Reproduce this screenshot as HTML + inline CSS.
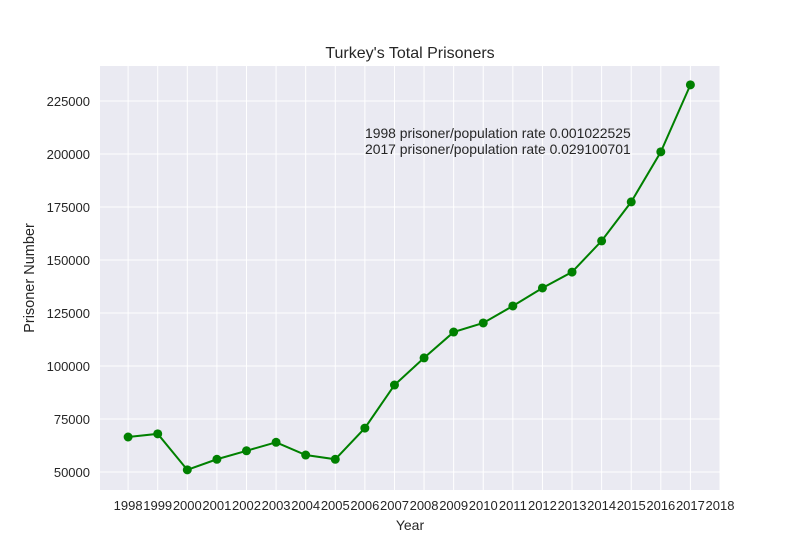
<!DOCTYPE html>
<html><head><meta charset="utf-8"><style>
body{margin:0;background:#fff;font-family:"Liberation Sans","DejaVu Sans",sans-serif;}
</style></head><body>
<svg id="chart" width="800" height="550" xmlns="http://www.w3.org/2000/svg" font-family="Liberation Sans, DejaVu Sans, sans-serif"></svg>
<script>
const years=[1998,1999,2000,2001,2002,2003,2004,2005,2006,2007,2008,2009,2010,2011,2012,2013,2014,2015,2016,2017];
const prisoners=[66500,68000,51000,56000,60000,64000,58000,56000,70700,91000,103800,116000,120300,128300,136800,144300,159000,177400,201000,232600];
const xTicks=[1998,1999,2000,2001,2002,2003,2004,2005,2006,2007,2008,2009,2010,2011,2012,2013,2014,2015,2016,2017,2018];
const yTicks=[50000,75000,100000,125000,150000,175000,200000,225000];
const L=100,R=720,T=66,B=490;
const xMin=1997.05,xMax=2018,yMin=41500,yMax=241500;
const sx=v=>L+(v-xMin)/(xMax-xMin)*(R-L);
const sy=v=>B-(v-yMin)/(yMax-yMin)*(B-T);
const svg=document.getElementById('chart');
const NS='http://www.w3.org/2000/svg';
function mk(tag,attrs,parent){const e=document.createElementNS(NS,tag);for(const k in attrs)e.setAttribute(k,attrs[k]);(parent||svg).appendChild(e);return e;}
let bg=mk('rect',{x:L,y:T,width:R-L,height:B-T,fill:'#eaeaf2'});


xTicks.forEach(t=>{
  let g=mk('line',{x1:sx(t),x2:sx(t),y1:T,y2:B,stroke:'#fff','stroke-width':1});
  
  
  let tx=mk('text',{x:sx(t),y:B+20,'text-anchor':'middle','font-size':13,fill:'#262626'});
  tx.textContent=t;
  
  
});
yTicks.forEach(t=>{
  let g=mk('line',{x1:L,x2:R,y1:sy(t),y2:sy(t),stroke:'#fff','stroke-width':1});
  
  
  let tx=mk('text',{x:L-10,y:sy(t)+5,'text-anchor':'end','font-size':13,fill:'#262626'});
  tx.textContent=t;
  
  
});
let line=mk('polyline',{points:years.map((y,i)=>sx(y)+','+sy(prisoners[i])).join(' '),fill:'none',stroke:'#008000','stroke-width':2});


years.forEach((y,i)=>{
  let c=mk('circle',{cx:sx(y),cy:sy(prisoners[i]),r:4.5,fill:'#008000'});
  
  
});
let title=mk('text',{x:410,y:58,'text-anchor':'middle','font-size':16,fill:'#262626'});
title.textContent="Turkey's Total Prisoners";


let xl=mk('text',{x:410,y:530,'text-anchor':'middle','font-size':14,fill:'#262626'});
xl.textContent='Year';


let yl=mk('text',{x:34,y:278,'text-anchor':'middle','font-size':14.5,fill:'#262626',transform:'rotate(-90 34 278)'});
yl.textContent='Prisoner Number';


let a1=mk('text',{x:365,y:138,'font-size':13.9,fill:'#262626'});
a1.textContent='1998 prisoner/population rate 0.001022525';


let a2=mk('text',{x:365,y:154,'font-size':13.9,fill:'#262626'});
a2.textContent='2017 prisoner/population rate 0.029100701';


</script>
</body></html>
